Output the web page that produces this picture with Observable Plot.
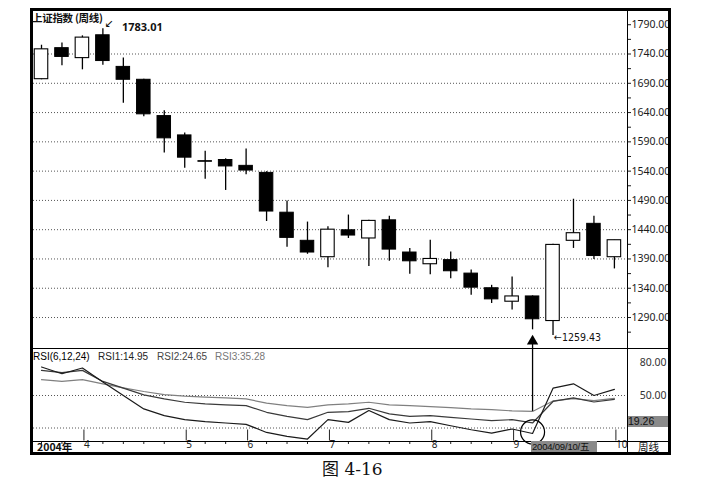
<!DOCTYPE html>
<html><head><meta charset="utf-8">
<script src="https://cdn.jsdelivr.net/npm/d3@7"></script>
<script src="https://cdn.jsdelivr.net/npm/@observablehq/plot@0.6"></script>
<style>
body{margin:0;background:#fff;}
#wrap{position:relative;width:716px;height:487px;overflow:hidden;background:#fff;font-family:"Liberation Sans",Arial,sans-serif;color:#111;}
.abs{position:absolute;white-space:nowrap;}
.ln{position:absolute;background:#000;}
svg{position:absolute;left:0;overflow:visible;}
</style></head><body><div id="wrap"></div>
<script>
// ---- data (weekly Shanghai Composite, 2004) ----
const open  = [1697,1750,1733,1772,1718,1696,1634,1601,1557,1559,1549,1537,1469,1421,1393,1439,1425,1456,1401,1381,1388,1365,1340,1317,1326,1284,1421,1450,1393];
const high  = [1755,1759,1771,1783.01,1733,1697,1643,1605,1574,1561,1578,1539,1489,1453,1445,1465,1456,1463,1408,1422,1402,1371,1345,1359,1327,1415,1492,1463,1422];
const low   = [1696,1720,1713,1721,1656,1633,1571,1545,1526,1507,1534,1454,1410,1398,1375,1425,1377,1386,1364,1363,1356,1328,1314,1303,1269,1259.43,1408,1389,1373];
const close = [1748,1735,1768,1728,1696,1637,1596,1563,1556,1548,1541,1471,1426,1401,1440,1430,1455,1406,1386,1390,1369,1341,1321,1326,1287,1414,1434,1395,1422];
const rsi1 = [76.3,70.1,75.4,62.4,50.0,37.6,31.4,27.7,25.9,24.6,23.4,15.9,12.2,9.8,27.7,25.2,36.1,27.7,24.6,25.9,22.1,18.4,15.3,19.1,14.95,56.8,60.8,50.0,55.6];
const rsi2 = [73.2,71.1,73.2,63.0,56.8,50.6,46.9,43.8,42.3,41.4,40.7,34.5,30.8,27.7,34.5,35.1,38.2,33.0,30.8,31.4,29.9,28.3,26.8,27.7,24.65,44.5,47.8,44.0,46.5];
const rsi3 = [64.6,63.0,64.6,60.8,57.1,53.7,50.9,49.4,48.5,47.9,46.9,42.9,40.7,39.1,41.4,42.3,43.8,41.4,40.7,39.8,38.9,37.6,37.0,35.8,35.28,45.0,47.2,45.2,47.3];
const priceTicks = [1290,1340,1390,1440,1490,1540,1590,1640,1690,1740,1790];
const priceMinor = [1265,1315,1365,1415,1465,1515,1565,1615,1665,1715,1765];
const priceGrid = [1290,1340,1390,1440,1490,1540,1590,1640,1690,1740];
const rsiTicks = [80,50];
const rsiGrid = [50,20];
const monthIdx = [2,7,10,14,19,23,28];
const monthLabels = ["4","5","6","7","8","9","10"];
const highlightIdx = 24;

const candles = open.map((o,i)=>({i, o, h:high[i], l:low[i], c:close[i], up: close[i] > o}));
const monthMap = new Map(monthIdx.map((d,i)=>[d, monthLabels[i]]));
const minorIdx = d3.range(open.length).filter(i => !monthMap.has(i));
const xDomain = [-0.391, 28.64];
const hc = candles[highlightIdx];

const wrap = document.getElementById("wrap");

// ---- main candlestick panel ----
const main = Plot.plot({
  width:716, height:350, marginLeft:33, marginRight:89, marginTop:11, marginBottom:2,
  x:{domain:xDomain, axis:null},
  y:{domain:[1237.1,1812.6], axis:null},
  style:{background:"transparent", overflow:"visible"},
  marks:[
    Plot.ruleY(priceGrid, {stroke:"#555", strokeDasharray:"1,2", strokeWidth:1}),
    Plot.axisY(priceTicks, {anchor:"right", tickSize:3, tickPadding:1, tickFormat:d=>d.toFixed(2), fontSize:10.5, color:"#1a1a1a"}),
    Plot.axisY(priceMinor, {anchor:"right", tickSize:3, tickFormat:()=>"", color:"#1a1a1a"}),
    Plot.ruleX(candles, {x:"i", y1:"l", y2:"h", stroke:"#000", strokeWidth:1.3}),
    Plot.rect(candles.filter(d=>!d.up), {x1:d=>d.i-0.33, x2:d=>d.i+0.33, y1:"o", y2:"c", fill:"#000", stroke:"#000", strokeWidth:1}),
    Plot.rect(candles.filter(d=>d.up), {x1:d=>d.i-0.33, x2:d=>d.i+0.33, y1:"o", y2:"c", fill:"#fff", stroke:"#000", strokeWidth:1.1}),
    Plot.text([candles[3]], {x:"i", y:"h", text:d=>d.h.toFixed(2), dx:19, dy:-1, textAnchor:"start", fontSize:11, fontWeight:"bold", fill:"#111"}),
    Plot.text([candles[3]], {x:"i", y:"h", text:()=>"↙", dx:6, dy:-5, fontSize:11, fontFamily:"DejaVu Sans", fill:"#111"}),
    Plot.text([candles[25]], {x:"i", y:"l", text:d=>"←"+d.l.toFixed(2), dx:1, dy:2, textAnchor:"start", fontSize:10.5, fontFamily:"DejaVu Sans Condensed, Liberation Sans", fill:"#111"}),
    Plot.ruleX([hc], {x:"i", y1:d=>d.l-16, y2:1237.1, stroke:"#000", strokeWidth:1.3}),
    Plot.dot([hc], {x:"i", y:d=>d.l-16, symbol:"triangle", r:4.2, fill:"#000", stroke:"none", dy:2})
  ]
});
main.style.top = "0px";
wrap.appendChild(main);

// ---- RSI panel ----
const rsiTop = 93.4;
const rsi = Plot.plot({
  width:716, height:106, marginLeft:33, marginRight:89, marginTop:0, marginBottom:13,
  x:{domain:xDomain, axis:null},
  y:{domain:[7.54, rsiTop], axis:null},
  style:{background:"transparent", overflow:"visible"},
  marks:[
    Plot.ruleY(rsiGrid, {stroke:"#555", strokeDasharray:"1,2", strokeWidth:1}),
    Plot.axisY(rsiTicks, {anchor:"right", tickSize:0, tickPadding:0, textAnchor:"end", dx:39, tickFormat:d=>d.toFixed(2), fontSize:10.5, color:"#333"}),
    Plot.line(rsi3, {x:(d,i)=>i, y:d=>d, stroke:"#808080", strokeWidth:1.2}),
    Plot.line(rsi2, {x:(d,i)=>i, y:d=>d, stroke:"#3a3a3a", strokeWidth:1.2}),
    Plot.line(rsi1, {x:(d,i)=>i, y:d=>d, stroke:"#1a1a1a", strokeWidth:1.2}),
    Plot.ruleX([highlightIdx], {x:d=>d, y1:rsi3[highlightIdx], y2:rsiTop, stroke:"#000", strokeWidth:1.3}),
    Plot.dot([highlightIdx], {x:d=>d, y:rsi1[highlightIdx], r:12, stroke:"#000", strokeWidth:1.2, fill:"none", dy:-1.5}),
    Plot.axisX(monthIdx, {anchor:"bottom", tickSize:11, tickPadding:0, tickFormat:d=>monthMap.get(d), textAnchor:"start", dx:1.5, dy:-11.5, fontSize:10, color:"#222"}),
    Plot.axisX(minorIdx, {anchor:"bottom", tickSize:3, tickFormat:()=>"", color:"#222"})
  ]
});
rsi.style.top = "348px";
wrap.appendChild(rsi);

// ---- frame lines ----
function line(l,t,w,h){const d=document.createElement("div");d.className="ln";Object.assign(d.style,{left:l+"px",top:t+"px",width:w+"px",height:h+"px"});wrap.appendChild(d);}
line(30,8,641,3);      // top
line(30,8,3,447);      // left
line(668,8,3,447);     // right
line(30,452,641,3);    // bottom
line(626.5,8,1.5,447); // price axis line
line(30,347.5,641,1.5);// panel separator
line(30,440.5,641,1);  // time axis band top

// ---- texts ----
function txt(s,l,t,style){const d=document.createElement("div");d.className="abs";d.textContent=s;Object.assign(d.style,{left:l+"px",top:t+"px"},style||{});wrap.appendChild(d);return d;}
const cjk = '"Noto Sans CJK SC","Liberation Sans",sans-serif';
txt("上证指数 (周线)",32,10,{fontFamily:cjk,fontSize:"10.5px",fontWeight:"bold",letterSpacing:"-0.3px"});
txt("RSI(6,12,24)",33,351,{fontSize:"10px",color:"#000"});
txt("RSI1:14.95",98,351,{fontSize:"10px",color:"#222"});
txt("RSI2:24.65",157,351,{fontSize:"10px",color:"#444"});
txt("RSI3:35.28",215,351,{fontSize:"10px",color:"#777"});
txt("2004年",37,440,{fontFamily:cjk,fontSize:"10.5px",fontWeight:"bold",lineHeight:"13px"});
txt("周线",638,440,{fontFamily:cjk,fontSize:"10.5px",lineHeight:"13px"});
txt("2004/09/10/五",531,441,{fontFamily:'"Liberation Sans Narrow","Liberation Sans","Noto Sans CJK SC",sans-serif',fontSize:"9.5px",lineHeight:"11px",height:"11px",width:"66px",background:"#8a8a8a",color:"#111",letterSpacing:"-0.2px",paddingLeft:"1px",boxSizing:"border-box"});
txt("19.26",628,416,{fontSize:"10.5px",lineHeight:"11px",height:"11px",width:"40px",background:"#8a8a8a",color:"#111"});
txt("图 4-16",322,455,{fontFamily:'"DejaVu Serif","Noto Sans CJK SC",serif',fontSize:"17px",color:"#111"});
</script>
</body></html>
